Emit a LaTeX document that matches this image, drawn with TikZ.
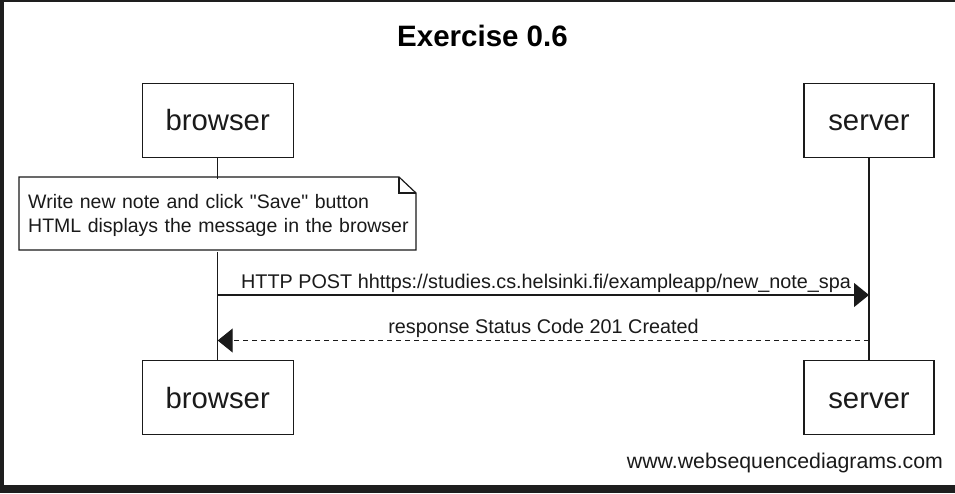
\documentclass[tikz,border=0pt]{standalone}
\usepackage{fontspec}
\setmainfont{Liberation Sans}[Ligatures=TeXOff]
\usetikzlibrary{arrows.meta}
\definecolor{frame}{HTML}{1E1E1E}
\definecolor{ink}{HTML}{1A1A1A}
\begin{document}
\begin{tikzpicture}[x=1pt,y=-1pt,
  actor/.style={draw=ink, line width=1.2pt, fill=white, minimum width=#1,
    minimum height=74pt, inner sep=0pt, font=\fontsize{29.3}{34}\selectfont,
    text height=21pt, text depth=0pt, text=ink},
  life/.style={draw=ink, line width=1.2pt},
  notebox/.style={fill=white, text width=379pt, inner xsep=9pt, inner ysep=0pt,
    minimum height=73pt, align=left, font=\fontsize{19.5}{24}\selectfont, text=ink},
  outline/.style={draw=ink, line width=1.2pt},
  lbl/.style={font=\fontsize{19.8}{24}\selectfont, text=ink, inner sep=0pt},
  footfont/.style={font=\fontsize{21.3}{26}\selectfont, text=ink, inner sep=0pt},
  titlefont/.style={font=\fontsize{29.5}{34}\selectfont\bfseries, text=black, inner sep=0pt},
  msg/.style={draw=ink, line width=1.2pt, -{Triangle[length=15pt,width=24pt]}},
  reply/.style={msg, dash pattern=on 5pt off 4pt}]
\fill[frame] (0,0) rectangle (955,493);
\fill[white] (3.7,2) rectangle (955,485);
\useasboundingbox (0,0) rectangle (955,493);

\node[titlefont, anchor=base] (title) at (482.5,46) {Exercise 0.6};

\node[actor=151pt] (bTop) at (217.7,120.3) {browser};
\node[actor=130pt] (sTop) at (869,120.3) {server};
\node[actor=151pt] (bBot) at (217.7,397.5) {browser};
\node[actor=130pt] (sBot) at (869,397.5) {server};

\draw[life] (bTop.south) -- (bBot.north);
\draw[life] (sTop.south) -- (sBot.north);

\node[notebox, anchor=north west, yshift=-1.4pt] (note) at (19,177)
  {\mbox{Write new note and click "Save" button}\\\mbox{HTML displays the message in the browser}};
\coordinate (nNW) at (19,177);
\coordinate (nNE) at (416,177);
\coordinate (nSE) at (416,250);
\coordinate (nSW) at (19,250);
\draw[outline] (nNW) -- ([xshift=-17pt]nNE)
  -- ([yshift=-16pt]nNE) -- (nSE) -- (nSW) -- cycle;
\draw[outline] ([xshift=-17pt]nNE) |- ([yshift=-16pt]nNE);

\coordinate (m1b) at (bTop.south |- 0,295);
\coordinate (m1s) at (sTop.south |- 0,295);
\coordinate (m2b) at (bTop.south |- 0,340.5);
\coordinate (m2s) at (sTop.south |- 0,340.5);

\draw[msg] (m1b) -- (m1s);
\node[lbl, anchor=base] (l1) at (546,288.3)
  {HTTP POST hhttps://studies.cs.helsinki.fi/exampleapp/new\_note\_spa};
\draw[reply] (m2s) -- (m2b);
\node[lbl, anchor=base] (l2) at (543.5,333) {response Status Code 201 Created};

\node[footfont, anchor=base west] (footer) at (626.7,468) {www.websequencediagrams.com};
\end{tikzpicture}
\end{document}
